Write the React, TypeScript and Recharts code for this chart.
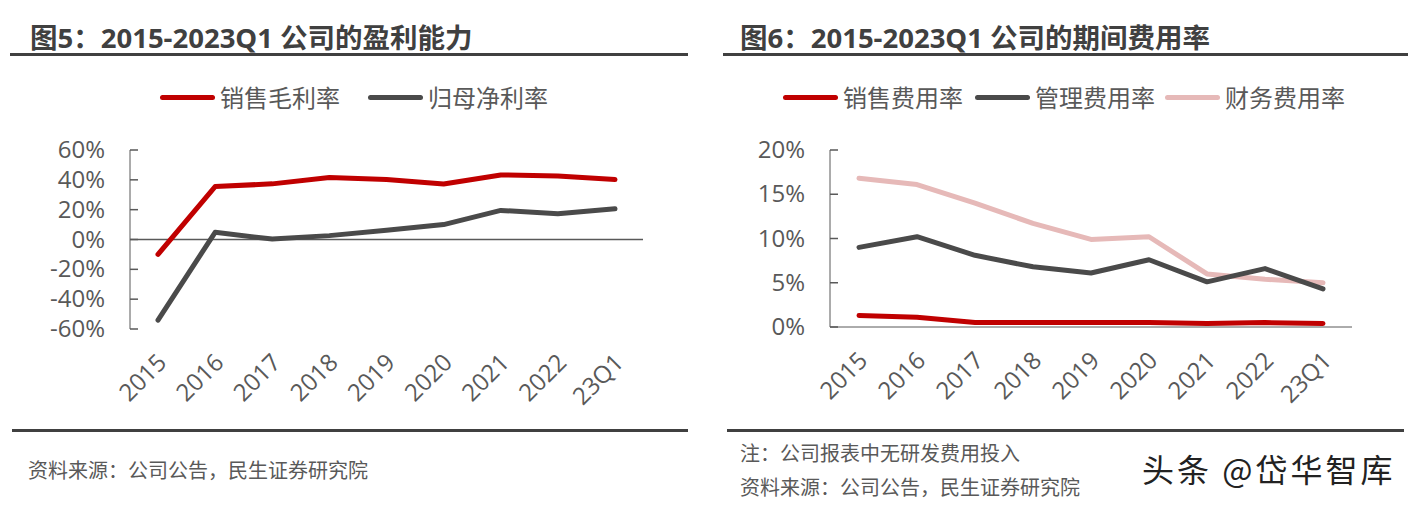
import React from "react";
import { LineChart, Line, XAxis, YAxis, ReferenceLine } from "recharts";

const years = ["2015", "2016", "2017", "2018", "2019", "2020", "2021", "2022", "23Q1"];

// 图5 (%)
const grossMargin = [-10, 35.5, 37.3, 41.6, 40.3, 37.2, 43.3, 42.6, 40.2];
const netMargin = [-54, 4.8, 0.3, 2.6, 6.2, 10, 19.5, 17.2, 20.6];
const profitTicks = [-60, -40, -20, 0, 20, 40, 60];

// 图6 (%)
const sellingRate = [1.3, 1.1, 0.5, 0.5, 0.5, 0.5, 0.4, 0.5, 0.4];
const adminRate = [9.0, 10.2, 8.1, 6.8, 6.1, 7.6, 5.1, 6.6, 4.3];
const financeRate = [16.8, 16.1, 14.0, 11.7, 9.9, 10.2, 6.0, 5.4, 5.0];
const expenseTicks = [0, 5, 10, 15, 20];

const profitData = years.map((y, i) => ({ year: y, gross: grossMargin[i], net: netMargin[i] }));
const expenseData = years.map((y, i) => ({
  year: y,
  selling: sellingRate[i],
  admin: adminRate[i],
  finance: financeRate[i],
}));

const RED = "#C00000";
const DARK = "#4A4A4A";
const PINK = "#E6B9B8";
const AXIS = "#595959";
const FONT = '"Open Sans", "Noto Sans CJK SC", sans-serif';
const CJK = '"Noto Sans CJK SC", sans-serif';

function YearTick(props: any) {
  const { x, y, payload } = props;
  const tx = x + 10;
  const ty = y + 27;
  return (
    <text
      x={tx}
      y={ty}
      transform={`rotate(-45, ${tx}, ${ty})`}
      textAnchor="end"
      fill={AXIS}
      fontSize={24}
      fontFamily={FONT}
    >
      {payload.value}
    </text>
  );
}

// value label on the left, short tick mark pointing into the plot
function PctTick(props: any) {
  const { x, y, payload } = props;
  return (
    <g>
      <line x1={x + 25} x2={x + 33} y1={y} y2={y} stroke={AXIS} strokeWidth={1.5} />
      <text x={x} y={y} dy={8} textAnchor="end" fill={AXIS} fontSize={24} fontFamily={FONT}>
        {`${payload.value}%`}
      </text>
    </g>
  );
}

function Rule({ left, top, width }: { left: number; top: number; width: number }) {
  return <div style={{ position: "absolute", left, top, width, height: 3, background: "#404040" }} />;
}

function LegendItem({ left, color, label }: { left: number; color: string; label: string }) {
  return (
    <div style={{ position: "absolute", left, top: 80, height: 34, display: "flex", alignItems: "center" }}>
      <div style={{ width: 55, height: 5, borderRadius: 3, background: color, marginRight: 5 }} />
      <span style={{ fontSize: 24, color: AXIS, fontFamily: CJK, lineHeight: "34px" }}>{label}</span>
    </div>
  );
}

const textStyle: React.CSSProperties = {
  position: "absolute",
  fontFamily: CJK,
  color: AXIS,
  fontSize: 20,
  whiteSpace: "nowrap",
};

const titleStyle: React.CSSProperties = {
  position: "absolute",
  top: 21,
  fontFamily: FONT,
  fontWeight: 700,
  fontSize: 27.5,
  color: "#404040",
  whiteSpace: "nowrap",
  lineHeight: "34px",
};

export default function App() {
  return (
    <div style={{ position: "absolute", left: 0, top: 0, width: 1416, height: 508, background: "#fff", overflow: "hidden" }}>
      {/* left panel */}
      <div style={{ ...titleStyle, left: 30 }}>图5：2015-2023Q1 公司的盈利能力</div>
      <Rule left={10} top={53} width={678} />
      <LegendItem left={160} color={RED} label="销售毛利率" />
      <LegendItem left={368} color={DARK} label="归母净利率" />
      <div style={{ position: "absolute", left: 0, top: 120 }}>
        <LineChart width={700} height={310} data={profitData} margin={{ top: 30, right: 57, bottom: 0, left: 0 }}>
          <XAxis
            dataKey="year"
            axisLine={false}
            tickLine={false}
            height={101}
            interval={0}
            padding={{ left: 28, right: 28 }}
            tick={<YearTick />}
          />
          <YAxis
            width={130}
            domain={[-60, 60]}
            ticks={profitTicks}
            interval={0}
            stroke={AXIS}
            tickLine={false}
            tickSize={0}
            tickMargin={25}
            tick={<PctTick />}
          />
          <ReferenceLine y={0} stroke={AXIS} strokeWidth={1.5} />
          <Line dataKey="gross" stroke={RED} strokeWidth={5} dot={false} strokeLinecap="round" strokeLinejoin="round" isAnimationActive={false} />
          <Line dataKey="net" stroke={DARK} strokeWidth={5} dot={false} strokeLinecap="round" strokeLinejoin="round" isAnimationActive={false} />
        </LineChart>
      </div>
      <Rule left={12} top={429} width={676} />
      <div style={{ ...textStyle, left: 28, top: 455 }}>资料来源：公司公告，民生证券研究院</div>

      {/* right panel */}
      <div style={{ ...titleStyle, left: 740 }}>图6：2015-2023Q1 公司的期间费用率</div>
      <Rule left={723} top={53} width={685} />
      <LegendItem left={783} color={RED} label="销售费用率" />
      <LegendItem left={975} color={DARK} label="管理费用率" />
      <LegendItem left={1165} color={PINK} label="财务费用率" />
      <div style={{ position: "absolute", left: 700, top: 120 }}>
        <LineChart width={716} height={310} data={expenseData} margin={{ top: 30, right: 64, bottom: 0, left: 0 }}>
          <XAxis
            dataKey="year"
            stroke={AXIS}
            tickLine={false}
            height={103}
            interval={0}
            padding={{ left: 29, right: 29 }}
            tick={<YearTick />}
          />
          <YAxis
            width={130}
            domain={[0, 20]}
            ticks={expenseTicks}
            interval={0}
            stroke={AXIS}
            tickLine={false}
            tickSize={0}
            tickMargin={25}
            tick={<PctTick />}
          />
          <Line dataKey="finance" stroke={PINK} strokeWidth={5} dot={false} strokeLinecap="round" strokeLinejoin="round" isAnimationActive={false} />
          <Line dataKey="admin" stroke={DARK} strokeWidth={5} dot={false} strokeLinecap="round" strokeLinejoin="round" isAnimationActive={false} />
          <Line dataKey="selling" stroke={RED} strokeWidth={5} dot={false} strokeLinecap="round" strokeLinejoin="round" isAnimationActive={false} />
        </LineChart>
      </div>
      <Rule left={727} top={429} width={677} />
      <div style={{ ...textStyle, left: 740, top: 438 }}>注：公司报表中无研发费用投入</div>
      <div style={{ ...textStyle, left: 740, top: 472 }}>资料来源：公司公告，民生证券研究院</div>
      <div style={{ ...textStyle, left: 1142, top: 445, fontSize: 32, color: "#222", letterSpacing: 3 }}>头条 @岱华智库</div>
    </div>
  );
}
